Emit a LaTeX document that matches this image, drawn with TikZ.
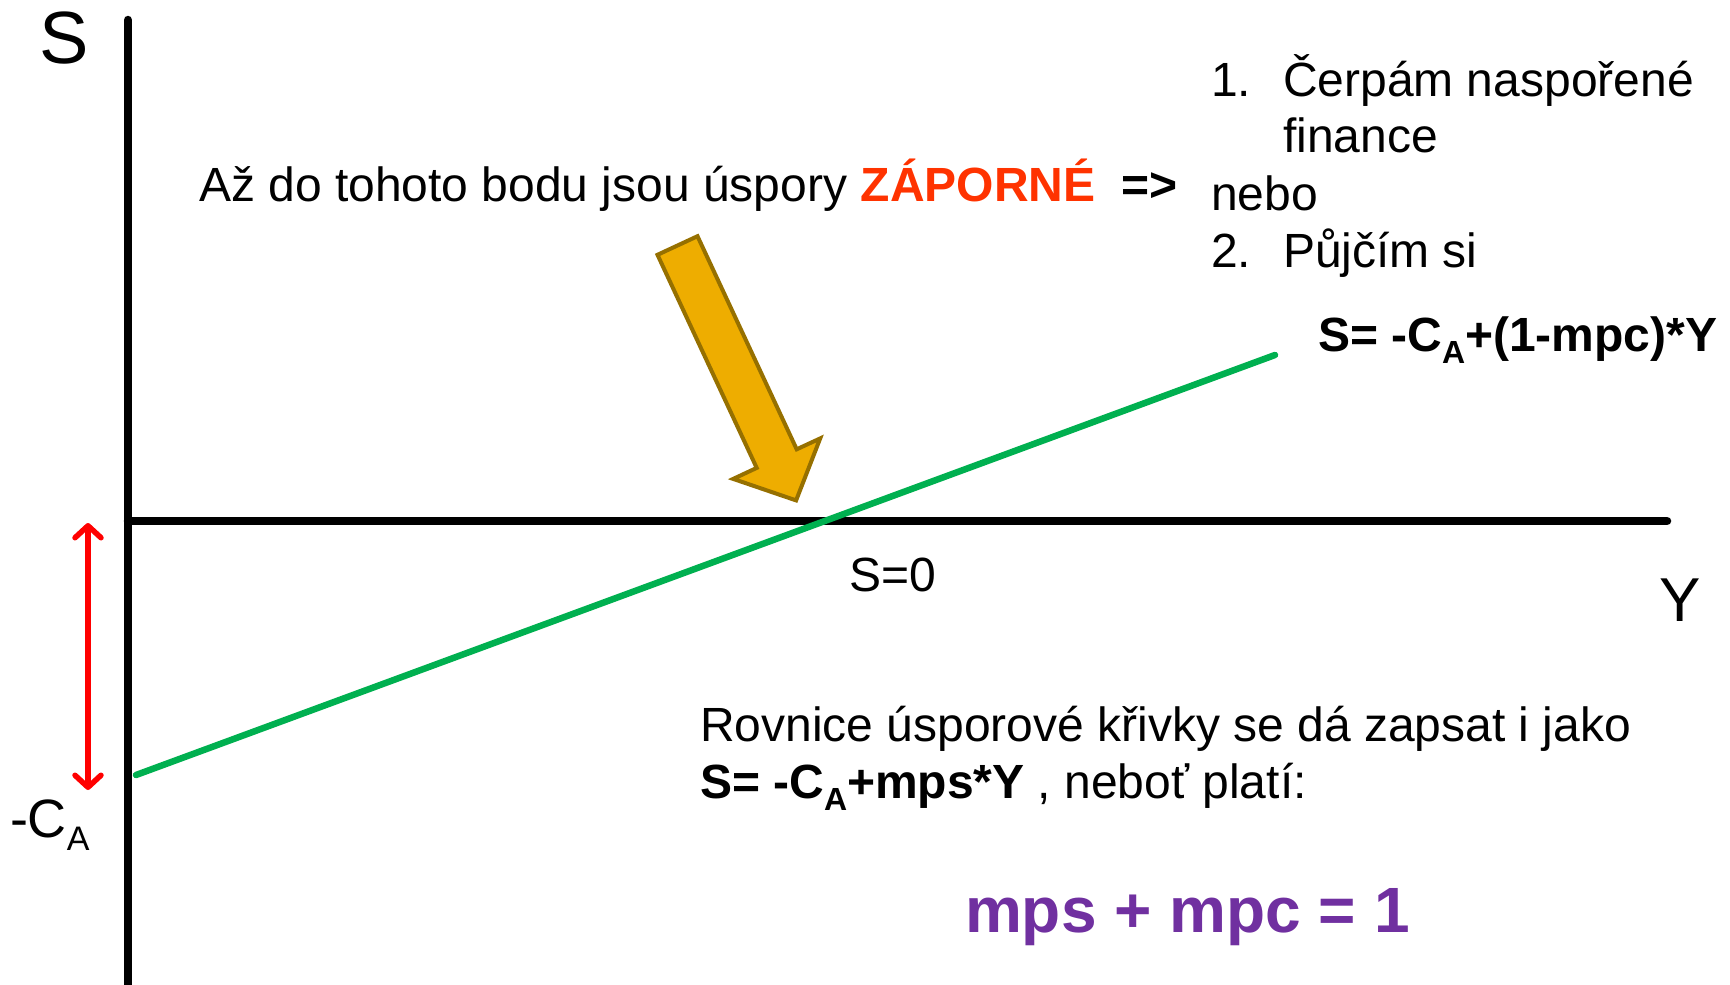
\documentclass[tikz,border=0pt]{standalone}
\usepackage{fontspec}
\setmainfont{Liberation Sans}
\usetikzlibrary{arrows.meta}
\definecolor{sgreen}{HTML}{00B050}
\definecolor{zred}{HTML}{FF3300}
\definecolor{mpurple}{HTML}{7030A0}
\definecolor{goldfill}{RGB}{238,173,0}
\definecolor{golddraw}{RGB}{150,112,0}
\newcommand{\fsz}[1]{\fontsize{#1}{#1}\selectfont}
\newcommand{\subA}[2]{\raisebox{-#2}{\fsz{#1}A}}
\begin{document}
\begin{tikzpicture}[x=1pt,y=-1pt,
  axisline/.style={line width=8.5pt,line cap=round},
  lbl/.style={inner sep=0pt,outer sep=0pt,anchor=base west},
  body/.style={lbl,font=\fsz{48}},
  redbarb/.tip={Straight Barb[length=12pt,width=26pt,line cap=round,line join=round]}]
\useasboundingbox (0,0) rectangle (1730,985);
% axes
\coordinate (ytop) at (128,20);
\coordinate (ybot) at (128,990);
\coordinate (O) at (128,521);
\coordinate (xend) at (1667,521);
\draw[axisline] (ytop) -- (ybot);
\draw[axisline] (O) -- (xend);
% saving line
\coordinate (g0) at (136,775);
\coordinate (g1) at (1275,355);
\draw[sgreen,line width=6.5pt,line cap=round] (g0) -- (g1);
% red double arrow
\coordinate (r0) at (88,523);
\coordinate (r1) at (88,790);
\draw[red,line width=5.5pt,redbarb-redbarb] (r0) -- (r1);
% block arrow
\coordinate (b1) at (657.5,254.8);
\coordinate (b2) at (697.5,236.2);
\coordinate (b3) at (796.7,449.3);
\coordinate (b4) at (820.2,438.4);
\coordinate (b5) at (796.1,500.4);
\coordinate (b6) at (733.2,478.9);
\coordinate (b7) at (756.7,467.9);
\draw[fill=goldfill,draw=golddraw,line width=4pt,line join=miter] (b1) -- (b2) -- (b3) -- (b4) -- (b5) -- (b6) -- (b7) -- cycle;
% labels
\node[lbl,font=\fsz{74}] (Slab) at (39,63) {S};
\node[lbl,font=\fsz{62}] (Ylab) at (1659,621) {Y};
\node[lbl,font=\fsz{54}] (CAlab) at (10,837) {-C\subA{34pt}{13pt}};
\node[body] (S0) at (849,591) {S=0};
\node[body] (top) at (199,201) {Až do tohoto bodu jsou úspory \textbf{\color{zred}ZÁPORNÉ}\hspace{26pt}\textbf{=>}};
\node[body] (n1) at (1211,96) {1.};
\node[body] (t1) at (1283,96) {Čerpám naspořené};
\node[body] (t1b) at (1283,152) {finance};
\node[body] (nebo) at (1211,210) {nebo};
\node[body] (n2) at (1211,267) {2.};
\node[body] (t2) at (1283,267) {Půjčím si};
\node[body,font=\fsz{48}\bfseries] (eq1) at (1318,351) {S= -C\subA{32pt}{12pt}+(1-mpc)*Y};
\node[body] (r1t) at (700,741) {Rovnice úsporové křivky se dá zapsat i jako};
\node[body] (r2t) at (700,798) {\textbf{S= -C\subA{32pt}{12pt}+mps*Y} , neboť platí:};
\node[lbl,font=\fsz{64}\bfseries,text=mpurple] (mps) at (965,932) {mps + mpc = 1};
\end{tikzpicture}
\end{document}
